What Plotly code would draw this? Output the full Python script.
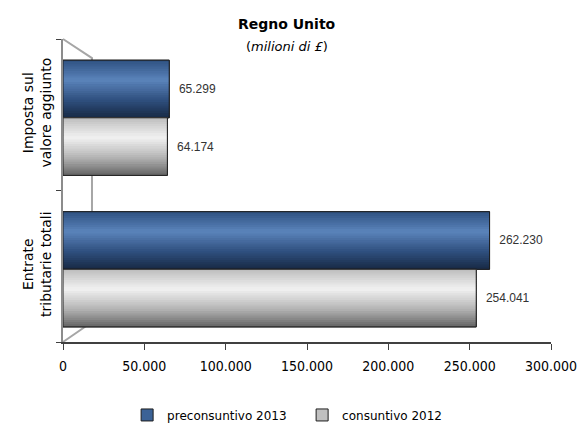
import plotly.graph_objects as go

# Data (milioni di £)
categories = ["Entrate<br>tributarie totali", "Imposta sul<br>valore aggiunto"]
preconsuntivo_2013 = [262230, 65299]
consuntivo_2012 = [254041, 64174]
x_ticks = [0, 50000, 100000, 150000, 200000, 250000, 300000]

BAR_W = 0.38
N_STRIPES = 26


def hex_to_rgb(h):
    h = h.lstrip("#")
    return tuple(int(h[i:i + 2], 16) for i in (0, 2, 4))


def shade(profile, t):
    # linear interpolation along a list of (position, colour) stops
    for (p0, c0), (p1, c1) in zip(profile, profile[1:]):
        if p0 <= t <= p1:
            f = (t - p0) / (p1 - p0) if p1 > p0 else 0
            a, b = hex_to_rgb(c0), hex_to_rgb(c1)
            return "rgb(%d,%d,%d)" % tuple(round(a[i] + (b[i] - a[i]) * f) for i in range(3))
    return profile[-1][1]


series = [
    dict(name="preconsuntivo 2013", values=preconsuntivo_2013, offset=-0.02,
         base="#3b6296",
         profile=[(0, "#2d5080"), (0.35, "#5b84bb"), (0.7, "#2f4f7e"), (1.0, "#172a45")]),
    dict(name="consuntivo 2012", values=consuntivo_2012, offset=-0.02 - BAR_W,
         base="#c0c0c0",
         profile=[(0, "#bcbcbc"), (0.35, "#f2f2f2"), (0.7, "#b3b3b3"), (1.0, "#656565")]),
]

fig = go.Figure()

for s in series:
    # base bar: legend entry, outline and value label
    fig.add_trace(go.Bar(
        y=categories, x=s["values"], orientation="h", name=s["name"],
        offset=s["offset"], width=BAR_W,
        marker=dict(color=s["base"], line=dict(color="#1e1e1e", width=1)),
        texttemplate="\u00a0\u00a0%{x:,.0f}", textposition="outside",
        textfont=dict(family="Liberation Sans, Arial", size=12, color="#333333"),
        cliponaxis=False, hoverinfo="x+name",
    ))
    # horizontal stripes giving the cylinder shading
    h = BAR_W / N_STRIPES
    for k in range(N_STRIPES):
        t = (k + 0.5) / N_STRIPES
        fig.add_trace(go.Bar(
            y=categories, x=s["values"], orientation="h",
            offset=s["offset"] + BAR_W - (k + 1) * h - 0.002, width=h + 0.004,
            marker=dict(color=shade(s["profile"], t), line=dict(width=0)),
            showlegend=False, hoverinfo="skip",
        ))
    # thin outline on top of the stripes
    fig.add_trace(go.Bar(
        y=categories, x=s["values"], orientation="h",
        offset=s["offset"], width=BAR_W,
        marker=dict(color="rgba(0,0,0,0)", line=dict(color="#1e1e1e", width=1)),
        showlegend=False, hoverinfo="skip",
    ))

# back wall edges of the 3-D frame
fig.add_shape(type="path", xref="paper", yref="paper",
              path="M 0,1 L 0.0594,0.937 L 0.0594,0.066 L 0,0",
              line=dict(color="#a6a6a6", width=2), layer="below")

fig.add_annotation(text="<b>Regno Unito</b>", xref="paper", yref="paper",
                   x=0.459, y=1.05, xanchor="center", yanchor="middle", showarrow=False,
                   font=dict(family="DejaVu Sans", size=14, color="#000000"))
fig.add_annotation(text="(<i>milioni di £</i>)", xref="paper", yref="paper",
                   x=0.459, y=0.975, xanchor="center", yanchor="middle", showarrow=False,
                   font=dict(family="DejaVu Sans", size=13, color="#000000"))

fig.update_layout(
    width=578, height=423,
    margin=dict(l=63, r=27, t=39, b=81, autoexpand=False),
    barmode="overlay",
    separators=",.",
    paper_bgcolor="white", plot_bgcolor="white",
    showlegend=True,
    legend=dict(orientation="h", x=0.49, xanchor="center",
                yref="container", y=0.019, yanchor="middle",
                entrywidth=130, entrywidthmode="pixels",
                font=dict(family="DejaVu Sans", size=12, color="#000000"),
                bgcolor="rgba(0,0,0,0)"),
    xaxis=dict(range=[0, 300000], tickvals=x_ticks, tickformat=",.0f",
               automargin=False,
               showgrid=False, zeroline=False,
               showline=True, linecolor="#404040", linewidth=2,
               ticks="outside", ticklen=6, tickcolor="#404040", tickwidth=1,
               ticklabelstandoff=4,
               tickfont=dict(family="DejaVu Sans Condensed", size=14, color="#000000")),
    yaxis=dict(type="category", range=[-0.5, 1.5], showgrid=False, automargin=False,
               showline=True, linecolor="#8c8c8c", linewidth=2,
               ticks="outside", tickson="boundaries", ticklen=5, tickcolor="#404040",
               tickangle=-90, ticklabelstandoff=4,
               tickfont=dict(family="DejaVu Sans", size=14, color="#000000")),
)

fig.write_html("out.html")
